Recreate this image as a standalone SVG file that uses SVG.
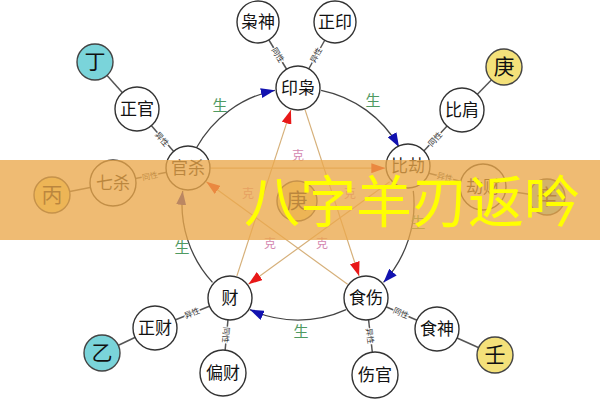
<svg xmlns="http://www.w3.org/2000/svg" width="600" height="400" viewBox="0 0 600 400">
<style>
text{font-family:"Noto Sans CJK SC","Noto Sans",sans-serif}
.nd{fill:#fff;stroke:#333;stroke-width:1.4}
.yin{fill:#7ad4da;stroke:#444;stroke-width:1.4}
.yang{fill:#f4e17a;stroke:#444;stroke-width:1.4}
.t{font-size:17px;fill:#111;text-anchor:middle}
.ts{font-size:21px;fill:#111;text-anchor:middle}
.arc{fill:none;stroke:#444;stroke-width:1.3}
.star{fill:none;stroke:#d6b07a;stroke-width:1.2}
.sp{stroke:#555;stroke-width:1.5}
.sl{font-size:8px;fill:#333;text-anchor:middle;stroke:#fff;stroke-width:2;paint-order:stroke}
.sheng{font-size:15px;fill:#4f9a62;text-anchor:middle}
.ke{font-size:12px;fill:#d488b0;text-anchor:middle}
</style>
<defs>
<marker id="blue" markerUnits="userSpaceOnUse" viewBox="0 0 14 10" refX="14" refY="5" markerWidth="14" markerHeight="10" orient="auto"><path d="M0,0 L14,5 L0,10 z" fill="#1212b0"/></marker>
<marker id="red" markerUnits="userSpaceOnUse" viewBox="0 0 14 10" refX="14" refY="5" markerWidth="14" markerHeight="10" orient="auto"><path d="M0,0 L14,5 L0,10 z" fill="#e81818"/></marker>
</defs>
<g id="connectors">
<path class="arc" d="M196.5,147.8 A116,116 0 0 1 274.9,90.3" marker-end="url(#blue)"/>
<path class="arc" d="M321.1,90.3 A116,116 0 0 1 399,146.9" marker-end="url(#blue)"/>
<path class="arc" d="M413.3,190.9 A116,116 0 0 1 383.5,282.4" marker-end="url(#blue)"/>
<path class="arc" d="M346.1,309.6 A116,116 0 0 1 249.9,309.6" marker-end="url(#blue)"/>
<path class="arc" d="M212.5,282.4 A116,116 0 0 1 182.7,190.9" marker-end="url(#blue)"/>
<line class="star" x1="236.9" y1="275.9" x2="290.9" y2="109.9" marker-end="url(#red)"/>
<line class="star" x1="305.1" y1="109.9" x2="359.1" y2="275.9" marker-end="url(#red)"/>
<line class="star" x1="347.6" y1="284.3" x2="206.3" y2="181.7" marker-end="url(#red)"/>
<line class="star" x1="210.7" y1="168.2" x2="385.3" y2="168.2" marker-end="url(#red)"/>
<line class="star" x1="389.7" y1="181.7" x2="248.4" y2="284.3" marker-end="url(#red)"/>
<line class="sp" x1="298" y1="88" x2="258" y2="22"/>
<line class="sp" x1="298" y1="88" x2="335" y2="22"/>
<line class="sp" x1="188" y1="168" x2="137" y2="109"/>
<line class="sp" x1="137" y1="109" x2="95" y2="62"/>
<line class="sp" x1="188" y1="168" x2="113" y2="183"/>
<line class="sp" x1="113" y1="183" x2="52" y2="195"/>
<line class="sp" x1="408" y1="168" x2="462" y2="110"/>
<line class="sp" x1="462" y1="110" x2="504" y2="67"/>
<line class="sp" x1="408" y1="168" x2="483" y2="187"/>
<line class="sp" x1="483" y1="187" x2="547" y2="197"/>
<line class="sp" x1="230" y1="298" x2="155" y2="328"/>
<line class="sp" x1="155" y1="328" x2="102" y2="353"/>
<line class="sp" x1="230" y1="298" x2="223" y2="373"/>
<line class="sp" x1="366" y1="298" x2="437" y2="329"/>
<line class="sp" x1="437" y1="329" x2="495" y2="355"/>
<line class="sp" x1="366" y1="298" x2="375" y2="375"/>
<text class="sl" transform="translate(278,55) rotate(58.8)" dy="3">同性</text>
<text class="sl" transform="translate(316,55) rotate(-60.7)" dy="3">异性</text>
<text class="sl" transform="translate(162,139) rotate(49)" dy="3">异性</text>
<text class="sl" transform="translate(150,176) rotate(-11.3)" dy="3">同性</text>
<text class="sl" transform="translate(435,139) rotate(-47)" dy="3">同性</text>
<text class="sl" transform="translate(445,177) rotate(14)" dy="3">异性</text>
<text class="sl" transform="translate(192,313) rotate(-21.8)" dy="3">异性</text>
<text class="sl" transform="translate(226,335) rotate(95)" dy="3">同性</text>
<text class="sl" transform="translate(401,313) rotate(23.6)" dy="3">同性</text>
<text class="sl" transform="translate(370,336) rotate(83)" dy="3">异性</text>
<text class="sheng" x="220" y="111">生</text>
<text class="sheng" x="373" y="106">生</text>
<text class="sheng" x="418" y="228">生</text>
<text class="sheng" x="301" y="337">生</text>
<text class="sheng" x="182" y="253">生</text>
<text class="ke" x="298" y="160">克</text>
<text class="ke" x="350" y="198">克</text>
<text class="ke" x="322" y="248">克</text>
<text class="ke" x="270" y="248">克</text>
<text class="ke" x="248" y="198">克</text>
</g>
<g id="n-yinxiao"><circle class="nd" cx="298" cy="88" r="22"/><text class="t" x="298" y="94">印枭</text></g>
<g id="n-bijie"><circle class="nd" cx="408" cy="166" r="22"/><text class="t" x="408" y="172">比劫</text></g>
<g id="n-shishang"><circle class="nd" cx="366" cy="298" r="22"/><text class="t" x="366" y="304">食伤</text></g>
<g id="n-cai"><circle class="nd" cx="230" cy="298" r="22"/><text class="t" x="230" y="304">财</text></g>
<g id="n-guansha"><circle class="nd" cx="188" cy="168" r="22"/><text class="t" x="188" y="174">官杀</text></g>
<g id="n-geng-center"><circle class="yang" cx="297" cy="201" r="20"/><text class="ts" x="297" y="208">庚</text></g>
<g id="n-xiaoshen"><circle class="nd" cx="258" cy="22" r="21"/><text class="t" x="258" y="28">枭神</text></g>
<g id="n-zhengyin"><circle class="nd" cx="335" cy="22" r="21"/><text class="t" x="335" y="28">正印</text></g>
<g id="n-zhengguan"><circle class="nd" cx="137" cy="109" r="22"/><text class="t" x="137" y="115">正官</text></g>
<g id="n-ding"><circle class="yin" cx="95" cy="62" r="18"/><text class="ts" x="95" y="69">丁</text></g>
<g id="n-qisha"><circle class="nd" cx="113" cy="183" r="23"/><text class="t" x="113" y="189">七杀</text></g>
<g id="n-bing"><circle class="yang" cx="52" cy="195" r="18"/><text class="ts" x="52" y="202">丙</text></g>
<g id="n-bijian"><circle class="nd" cx="462" cy="110" r="22"/><text class="t" x="462" y="116">比肩</text></g>
<g id="n-geng"><circle class="yang" cx="504" cy="67" r="18"/><text class="ts" x="504" y="74">庚</text></g>
<g id="n-jiecai"><circle class="nd" cx="483" cy="187" r="23"/><text class="t" x="483" y="193">劫财</text></g>
<g id="n-xin"><circle class="yin" cx="547" cy="197" r="18"/><text class="ts" x="547" y="204">辛</text></g>
<g id="n-zhengcai"><circle class="nd" cx="155" cy="328" r="22"/><text class="t" x="155" y="334">正财</text></g>
<g id="n-yi"><circle class="yin" cx="102" cy="353" r="18"/><text class="ts" x="102" y="360">乙</text></g>
<g id="n-piancai"><circle class="nd" cx="223" cy="373" r="23"/><text class="t" x="223" y="379">偏财</text></g>
<g id="n-shishen"><circle class="nd" cx="437" cy="329" r="22"/><text class="t" x="437" y="335">食神</text></g>
<g id="n-ren"><circle class="yang" cx="495" cy="355" r="18"/><text class="ts" x="495" y="362">壬</text></g>
<g id="n-shangguan"><circle class="nd" cx="375" cy="375" r="23"/><text class="t" x="375" y="381">伤官</text></g>
<rect x="0" y="160" width="600" height="80" fill="#eaa84c" opacity="0.78"/>
<text x="244" y="222" font-size="56" fill="#ffff00">八字羊刃返吟</text>
</svg>
